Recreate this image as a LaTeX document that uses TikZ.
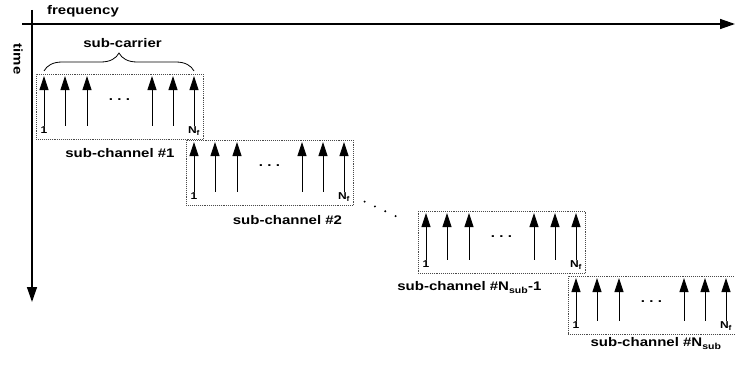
\documentclass[tikz,border=0pt]{standalone}
\usepackage{fontspec}
\setmainfont{Liberation Sans}[FakeStretch=1.2]
\usepackage{tikz}
\usetikzlibrary{
  arrows.meta,
  positioning,
  decorations.pathreplacing,
}
\definecolor{ink}{HTML}{000000}
\definecolor{frame}{HTML}{4A4A4A}
\tikzset{
  >=Triangle,
  font=\bfseries\fontsize{12.5}{14}\selectfont,
  every node/.append style={text=ink},
  axis/.style={line width=1.4pt, -{Triangle[width=10pt,length=15pt]}},
  subbox/.style={
    draw=frame,
    densely dotted,
    line width=0.9pt,
    minimum width=167pt,
    inner sep=0pt,
    anchor=north west,
  },
  carrier/.style={line width=0.9pt, -{Triangle[width=9pt,length=14pt]}},
  idx/.style={font=\bfseries\fontsize{10}{11}\selectfont, inner sep=0pt, anchor=base},
  chlabel/.style={anchor=base, inner sep=0pt},
}

\begin{document}
\begin{tikzpicture}[x=1pt,y=1pt]
  \useasboundingbox (0,0) rectangle (735,365);

  % axes
  \coordinate (f0) at (22,341);
  \coordinate (f1) at (735,341);
  \coordinate (t0) at (32,355);
  \coordinate (t1) at (32,63);
  \draw[axis] (f0) -- (f1);
  \draw[axis] (t0) -- (t1);
  \node[anchor=base] (freq) at (83,350) {frequency};
  \node[rotate=-90] (time) at (18,306) {time};

  % sub-channels with their sub-carriers
  \foreach \i/\x/\y/\h/\w in {1/36/291/65/167, 2/186/225/65/167, 3/418/154/62/167, 4/568/89/58/180} {
    \node[subbox, minimum height=\h pt, minimum width=\w pt] (box\i) at (\x,\y) {};
    \foreach \k/\dx in {1/8, 2/29, 3/51, 4/116, 5/137, 6/158} {
      \coordinate (foot\i-\k) at ([xshift=\dx pt, yshift=14pt]box\i.south west);
      \coordinate (tip\i-\k) at ([xshift=\dx pt, yshift=-2pt]box\i.north west);
      \draw[carrier] (foot\i-\k) -- (tip\i-\k);
    }
    \node[anchor=base] (dots\i) at ([xshift=83.5pt, yshift=-26pt]box\i.north west) {.\hspace{4.3pt}.\hspace{4.3pt}.};
    \node[idx] (first\i) at ([yshift=-8pt]foot\i-1) {1};
    \node[idx] (last\i) at ([yshift=-8pt]foot\i-6) {N\textsubscript{f}};
  }

  \node[chlabel] (lab1) at ([yshift=-18pt]box1.south) {sub-channel \#1};
  \node[chlabel] (lab2) at ([xshift=17.5pt, yshift=-19pt]box2.south) {sub-channel \#2};
  \node[chlabel] (lab3) at ([xshift=-32.5pt, yshift=-17pt]box3.south) {sub-channel \#N\textsubscript{sub}-1};
  \node[chlabel] (lab4) at ([xshift=88pt, yshift=-12pt]box4.south west) {sub-channel \#N\textsubscript{sub}};

  % brace over the sub-carriers
  \draw[line width=0.8pt, decorate, decoration={brace, amplitude=18pt}]
    ([yshift=5pt]tip1-1) -- ([yshift=5pt]tip1-6);
  \node[anchor=base] (subc) at (122.5,317) {sub-carrier};

  % skipped sub-channels
  \draw[line width=2.2pt, line cap=round, dash pattern=on 0pt off 11.4pt]
    ([xshift=10.7pt, yshift=4.3pt]box2.south east) -- ([xshift=-14pt, yshift=-9pt]box3.north west);
\end{tikzpicture}
\end{document}
